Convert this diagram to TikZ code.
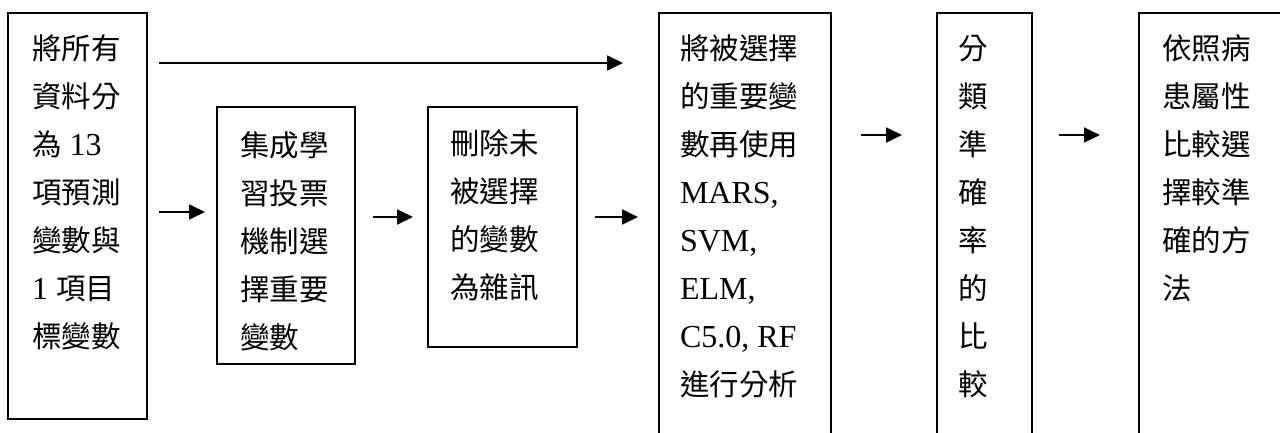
\documentclass[tikz,border=0pt]{standalone}
\usepackage{fontspec}
\setmainfont{Liberation Serif}
\newfontfamily\cjk{Noto Sans CJK TC}
\usetikzlibrary{arrows.meta}
\newcommand{\C}[1]{{\cjk\fontsize{29.5}{48}\selectfont #1}}
\newcommand{\Lt}[1]{{\fontsize{32}{48}\selectfont #1}}
\newcommand{\stack}[1]{\vtop{\baselineskip=48pt\lineskiplimit=-100pt #1}}
\begin{document}
\begin{tikzpicture}[x=1pt,y=-1pt,
  box/.style={draw=black,line width=1.8pt,rectangle,anchor=north west,inner sep=0pt,outer sep=0pt},
  txt/.style={anchor=base west,inner sep=0pt,outer sep=0pt},
  arr/.style={line width=1.8pt,-{Triangle[length=16pt,width=15pt]}}]
\useasboundingbox (0,0) rectangle (1280,432);
\clip (0,0) rectangle (1280,432);
\fill[white] (0,0) rectangle (1280,432);
% boxes
\node[box,minimum width=139pt,minimum height=406pt] (b1) at (8,13) {};
\node[box,minimum width=138pt,minimum height=257pt] (b2) at (217,107) {};
\node[box,minimum width=149pt,minimum height=240pt] (b3) at (428,107) {};
\node[box,minimum width=172pt,minimum height=440pt] (b4) at (659,13) {};
\node[box,minimum width=95pt,minimum height=440pt] (b5) at (937,13) {};
\node[box,minimum width=170pt,minimum height=440pt] (b6) at (1139,13) {};
% texts
\node[txt] (t1) at (32,59) {\stack{\hbox{\C{將所有}}\hbox{\C{資料分}}\hbox{\C{為}\Lt{ 13}}\hbox{\C{項預測}}\hbox{\C{變數與}}\hbox{\Lt{1 }\C{項目}}\hbox{\C{標變數}}}};
\node[txt] (t2) at (240,156) {\stack{\hbox{\C{集成學}}\hbox{\C{習投票}}\hbox{\C{機制選}}\hbox{\C{擇重要}}\hbox{\C{變數}}}};
\node[txt] (t3) at (450,154) {\stack{\hbox{\C{刪除未}}\hbox{\C{被選擇}}\hbox{\C{的變數}}\hbox{\C{為雜訊}}}};
\node[txt] (t4) at (680,59) {\stack{\hbox{\C{將被選擇}}\hbox{\C{的重要變}}\hbox{\C{數再使用}}\hbox{\Lt{MARS,}}\hbox{\Lt{SVM,}}\hbox{\Lt{ELM,}}\hbox{\Lt{C5.0, RF}}\hbox{\C{進行分析}}}};
\node[txt] (t5) at (958,59) {\stack{\hbox{\C{分}}\hbox{\C{類}}\hbox{\C{準}}\hbox{\C{確}}\hbox{\C{率}}\hbox{\C{的}}\hbox{\C{比}}\hbox{\C{較}}}};
\node[txt] (t6) at (1162,59) {\stack{\hbox{\C{依照病}}\hbox{\C{患屬性}}\hbox{\C{比較選}}\hbox{\C{擇較準}}\hbox{\C{確的方}}\hbox{\C{法}}}};
% arrows
\draw[arr,shorten <=12pt,shorten >=36pt] (b1.east |- 0,63) -- (b4.west |- 0,63);
\draw[arr,shorten <=12pt,shorten >=12pt] (b1.east |- 0,212) -- (b2.west |- 0,212);
\draw[arr,shorten <=18pt,shorten >=15pt] (b2.east |- 0,217) -- (b3.west |- 0,217);
\draw[arr,shorten <=18pt,shorten >=21pt] (b3.east |- 0,217) -- (b4.west |- 0,217);
\draw[arr,shorten <=30pt,shorten >=35pt] (b4.east |- 0,135) -- (b5.west |- 0,135);
\draw[arr,shorten <=27pt,shorten >=39pt] (b5.east |- 0,135) -- (b6.west |- 0,135);
\end{tikzpicture}
\end{document}
